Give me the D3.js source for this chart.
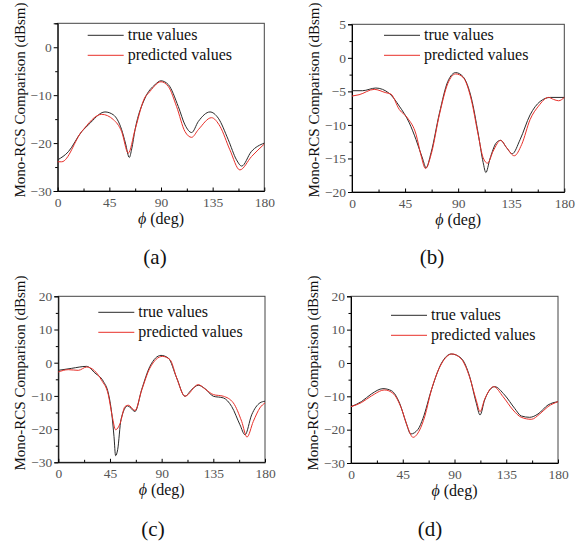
<!DOCTYPE html>
<html>
<head>
<meta charset="utf-8">
<script src="https://cdn.jsdelivr.net/npm/d3@7"></script>
<style>
  body { margin: 0; background: #fff; }
</style>
</head>
<body>
<div id="chart-area"></div>
<script>
// values, [phi (deg), RCS (dBsm)]
var trueA = [[0,-23.5],[9.3,-21.8],[20.9,-17.6],[26.7,-16.2],[41.2,-13.5],[48.5,-14.1],[55.7,-17.2],[59,-20],[62.4,-23.0],[64.5,-21.2],[67.4,-17.2],[76.1,-10.6],[84.8,-7.8],[90,-7.0],[96.4,-7.8],[105.1,-12.4],[110.9,-16.2],[116.7,-17.8],[122.5,-15.5],[132.7,-13.5],[139.9,-14.8],[148.6,-19.3],[155.8,-23.5],[160.3,-24.8],[168.6,-21.8],[180,-20.0]];
var predA = [[0,-23.9],[3.5,-23.9],[20.9,-17.6],[38.3,-14.0],[48.5,-15.1],[55.7,-17.6],[61.5,-22.1],[67.4,-17.2],[76.1,-10.4],[79,-9.6],[90,-7.2],[96.4,-8.2],[103.6,-12.4],[110.9,-17.6],[116.7,-18.8],[122.5,-17.2],[134,-14.7],[141.4,-16.5],[150,-21.4],[158.7,-25.6],[168.9,-22.8],[180,-20.2]];

var trueB = [[0,-4.9],[8.8,-4.9],[20.2,-4.5],[31.6,-5.3],[40.1,-7.2],[48.6,-9.7],[54.3,-12.2],[60,-15.1],[62.8,-16.4],[67.1,-14.1],[74.2,-8.2],[81.3,-3.5],[87.9,-2.2],[94.1,-2.8],[101.2,-6.0],[106.9,-11.2],[111.2,-15.6],[113.5,-17.1],[116.9,-15.1],[122.6,-12.6],[126,-12.3],[131.1,-13.4],[135.9,-14.3],[142.5,-12.2],[151,-8.5],[159.5,-6.5],[168.1,-5.9],[180,-5.9]];
var predB = [[0,-5.7],[6,-5.5],[18.8,-4.7],[28.7,-5.2],[33,-5.4],[40.1,-7.7],[47.2,-9.0],[54.3,-11.4],[58.6,-14.6],[62.3,-16.5],[67.1,-14.4],[74.2,-8.4],[81.3,-3.8],[87.9,-2.4],[94.1,-2.9],[101.2,-6.3],[106.9,-11.4],[111.2,-14.9],[114.9,-15.7],[119.7,-13.9],[126,-12.3],[131.1,-13.4],[137.6,-14.6],[143.9,-12.9],[151,-9.2],[158.1,-7.2],[166.6,-5.9],[170.9,-6.2],[175.2,-6.4],[180,-5.9]];

var trueC = [[0,-2.3],[11.6,-1.7],[24.7,-1.1],[31.9,-3.1],[39.2,-5.6],[43.5,-9.1],[46.5,-15.2],[48.5,-22.2],[49.9,-28.0],[51.7,-26.2],[54.6,-17.1],[60.4,-13.0],[66.8,-14.7],[72.6,-8.1],[79.8,-1.1],[89.4,2.2],[95.8,1.4],[103.1,-4.6],[110.3,-10.1],[116.1,-8.1],[121.9,-6.8],[127.7,-7.8],[135,-10.1],[143.7,-10.6],[151,-13.2],[158.2,-18.7],[162.6,-21.7],[168.4,-15.7],[175.6,-12.1],[180,-11.6]];
var predC = [[0,-2.8],[8.7,-2.1],[17.4,-2.3],[24.7,-1.3],[37.7,-5.3],[43.5,-9.6],[47,-16.2],[49.9,-20.2],[53.7,-18.4],[58.1,-13.2],[61,-12.8],[66.8,-14.4],[72.6,-8.3],[79.8,-1.6],[90.6,1.9],[97.3,0.9],[103.1,-4.6],[110.3,-10.1],[121.9,-6.6],[127.7,-7.9],[135,-9.6],[143.7,-10.1],[152.4,-12.1],[159.7,-17.7],[164.3,-22.4],[169.8,-17.7],[175.6,-13.6],[180,-12.1]];

var trueD = [[0,-13.1],[9,-11.6],[17.7,-9.3],[27.8,-7.7],[35.1,-8.3],[42.3,-12.1],[48.1,-18.1],[51.9,-21.3],[58.3,-19.9],[62.6,-16.6],[69.9,-8.1],[78.6,-0.1],[87.2,2.7],[95.9,1.4],[103.2,-4.1],[109,-12.1],[112.2,-15.6],[116.2,-11.1],[124.9,-7.1],[133.6,-9.6],[142.3,-13.6],[148.1,-15.9],[155.4,-16.3],[162.6,-15.3],[171.3,-12.6],[180,-11.6]];
var predD = [[0,-13.1],[9,-11.9],[17.7,-9.9],[29.3,-8.1],[36.5,-9.1],[43.8,-13.6],[49.6,-19.6],[53.9,-22.3],[59.7,-20.1],[64.1,-16.1],[69.9,-8.1],[78.6,-0.3],[87.8,2.7],[95.9,1.2],[103.2,-4.3],[109,-11.3],[112.2,-14.6],[116.2,-10.9],[124.1,-7.1],[132.2,-10.1],[140.9,-14.1],[148.1,-16.3],[156.8,-16.9],[164.1,-15.3],[171.3,-13.1],[180,-11.6]];

var xTicks = [0, 45, 90, 135, 180];
var yTicksA = [-30, -20, -10, 0];
var yTicksB = [-20, -15, -10, -5, 0, 5];
var yTicksCD = [-30, -20, -10, 0, 10, 20];
var panelLabels = ["(a)", "(b)", "(c)", "(d)"];
var seriesNames = ["true values", "predicted values"];

var W = 584, H = 546;
var FONT = "Liberation Serif";
var svg = d3.select("#chart-area").append("svg")
	.attr("width", W)
	.attr("height", H);

var panels = [
	{ t: trueA, p: predA, yd: [-30, 5], yt: yTicksA, minor: 5,
	  l: 57.7, r: 264.3, top: 23.3, b: 191, lg: [30, 12], lab: [155, 264], ylab: 100 },
	{ t: trueB, p: predB, yd: [-20, 5], yt: yTicksB, minor: 2.5,
	  l: 352, r: 564.3, top: 24.3, b: 192, lg: [32, 11], lab: [432, 264], ylab: 100 },
	{ t: trueC, p: predC, yd: [-30, 20], yt: yTicksCD, minor: 5,
	  l: 58.3, r: 265, top: 296.3, b: 462.3, lg: [40, 16], lab: [153, 536], ylab: 373 },
	{ t: trueD, p: predD, yd: [-30, 20], yt: yTicksCD, minor: 5,
	  l: 351, r: 558, top: 296.3, b: 463, lg: [40, 19], lab: [430, 536], ylab: 373 }
];

panels.forEach(function(P, i) {
	var g = svg.append("g");
	var x = d3.scaleLinear().domain([0, 180]).range([P.l, P.r]);
	var y = d3.scaleLinear().domain(P.yd).range([P.b, P.top]);

	// frame
	g.append("rect")
		.attr("x", P.l).attr("y", P.top)
		.attr("width", P.r - P.l).attr("height", P.b - P.top)
		.attr("fill", "none").attr("stroke", "#444").attr("stroke-width", 1);

	// minor ticks
	var minorY = d3.range(P.yd[0] + P.minor, P.yd[1] + 0.01, P.minor * 2);
	g.append("g").attr("transform", "translate(" + P.l + ",0)")
		.call(d3.axisLeft(y).tickValues(minorY).tickSize(2.5).tickFormat(""))
		.call(function(a) { a.select(".domain").remove(); });
	g.append("g").attr("transform", "translate(0," + P.b + ")")
		.call(d3.axisTop(x).tickValues([22.5, 67.5, 112.5, 157.5]).tickSize(2.5).tickFormat(""))
		.call(function(a) { a.select(".domain").remove(); });

	// y axis
	var yAx = g.append("g").attr("transform", "translate(" + P.l + ",0)")
		.call(d3.axisLeft(y).tickValues(P.yt).tickSize(4).tickPadding(2)
			.tickFormat(function(d){ return d < 0 ? "\u2212" + Math.abs(d) : d; }));
	yAx.select(".domain").attr("stroke", "#000");
	yAx.selectAll("text")
		.attr("font-family", FONT).attr("font-size", 13.5).attr("fill", "#555");

	// x axis
	var xAx = g.append("g").attr("transform", "translate(0," + P.b + ")")
		.call(d3.axisBottom(x).tickValues(xTicks).tickSize(0).tickPadding(6));
	xAx.selectAll(".tick line").remove();
	xAx.select(".domain").attr("stroke", "#000");
	xAx.selectAll("text")
		.attr("font-family", FONT).attr("font-size", 13.5).attr("fill", "#555");
	g.append("g").attr("transform", "translate(0," + P.b + ")")
		.call(d3.axisTop(x).tickValues(xTicks).tickSize(3.5).tickFormat(""))
		.call(function(a) { a.select(".domain").remove(); });

	// x label
	var xl = g.append("text")
		.attr("x", (P.l + P.r) / 2)
		.attr("y", P.b + 33)
		.attr("text-anchor", "middle")
		.attr("font-family", FONT)
		.attr("font-size", 16)
		.attr("fill", "#111");
	xl.append("tspan").attr("font-style", "italic").attr("font-family", FONT).text("\u03D5");
	xl.append("tspan").attr("font-family", FONT).text(" (deg)");

	// y label
	g.append("text")
		.attr("transform", "translate(" + (P.l - 33) + "," + P.ylab + ") rotate(-90)")
		.attr("text-anchor", "middle")
		.attr("font-family", FONT)
		.attr("font-size", 15)
		.attr("fill", "#111")
		.text("Mono-RCS Comparison (dBsm)");

	// curves
	var line = d3.line()
		.x(function(d){ return x(d[0]); })
		.y(function(d){ return y(d[1]); })
		.curve(d3.curveMonotoneX);
	g.append("path").datum(P.t)
		.attr("d", line).attr("fill", "none")
		.attr("stroke", "#2a2a2a").attr("stroke-width", 1);
	g.append("path").datum(P.p)
		.attr("d", line).attr("fill", "none")
		.attr("stroke", "#e8302a").attr("stroke-width", 1);

	// legend
	var lx = P.l + P.lg[0], ly = P.top + P.lg[1];
	[["#2a2a2a", seriesNames[0]], ["#e8302a", seriesNames[1]]].forEach(function(s, k) {
		var yy = ly + k * 20;
		g.append("line")
			.attr("x1", lx).attr("x2", lx + 36)
			.attr("y1", yy).attr("y2", yy)
			.attr("stroke", s[0]).attr("stroke-width", 1);
		g.append("text")
			.attr("x", lx + 40).attr("y", yy + 5)
			.attr("font-family", FONT)
			.attr("font-size", 16).attr("fill", "#111")
			.text(s[1]);
	});

	// panel label
	g.append("text")
		.attr("x", P.lab[0]).attr("y", P.lab[1])
		.attr("text-anchor", "middle")
		.attr("font-family", FONT)
		.attr("font-size", 21).attr("fill", "#111")
		.text(panelLabels[i]);
});
</script>
</body>
</html>
